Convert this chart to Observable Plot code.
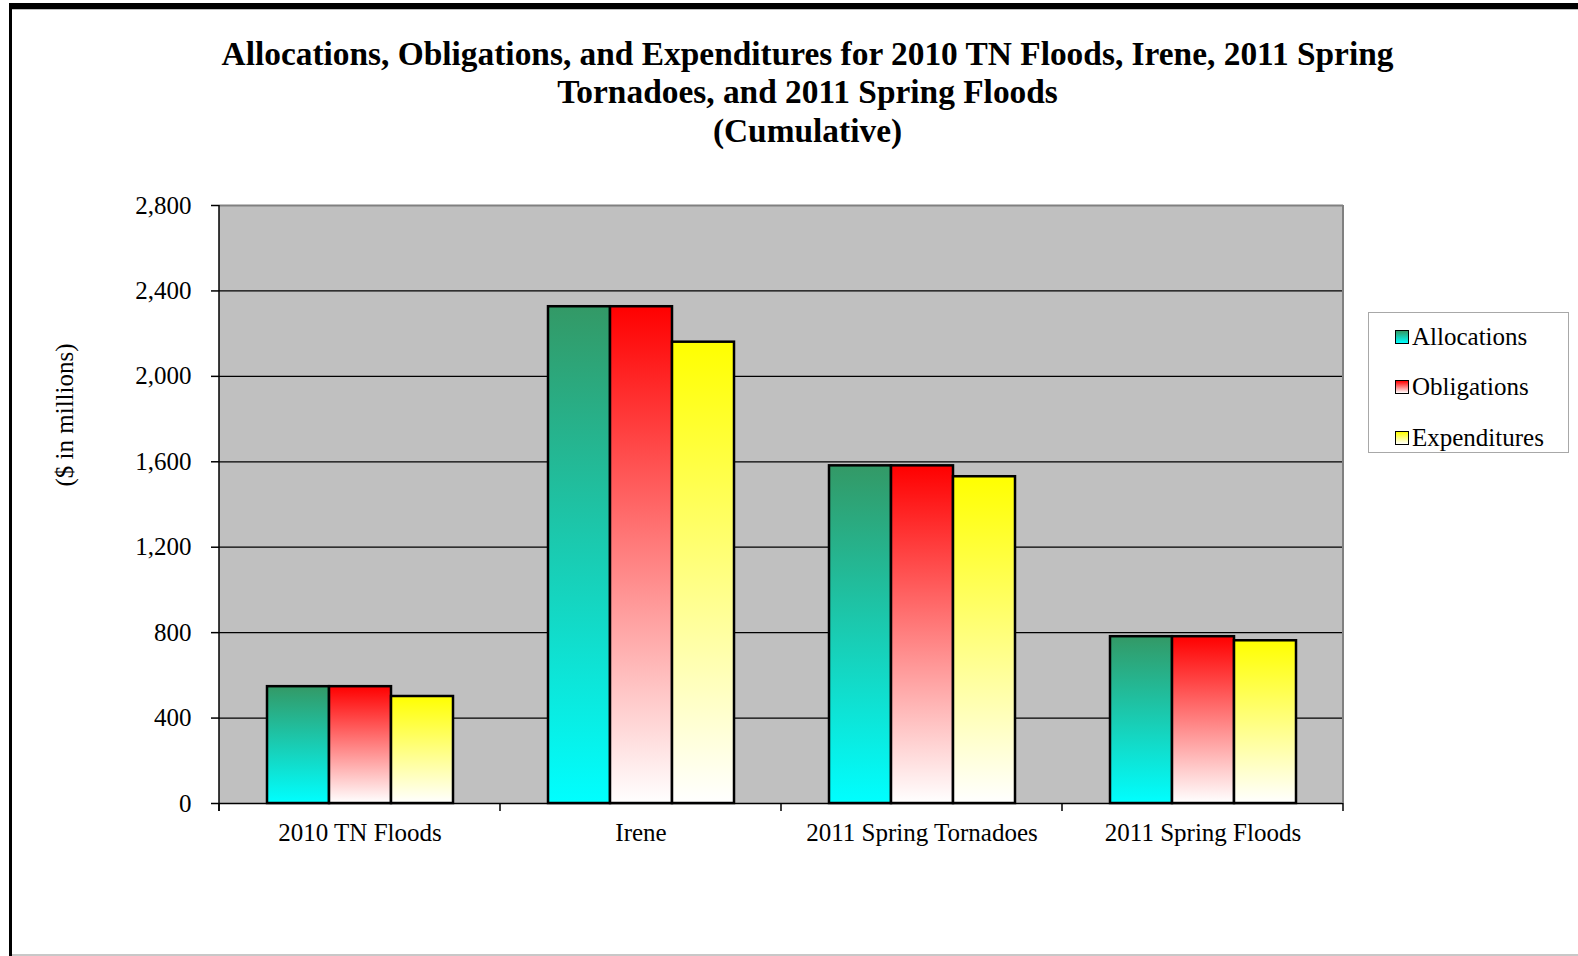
<!DOCTYPE html>
<html><head><meta charset="utf-8">
<script src="https://cdn.jsdelivr.net/npm/d3@7"></script>
<script src="https://cdn.jsdelivr.net/npm/@observablehq/plot@0.6"></script>
<style>
html,body{margin:0;padding:0;background:#fff;}
body{width:1578px;height:956px;overflow:hidden;position:relative;font-family:"Liberation Serif","Times New Roman",serif;color:#000;}
#chart{position:absolute;left:0;top:0;}
.bar{position:absolute;}
.title{position:absolute;left:0;width:1615px;text-align:center;font-weight:bold;font-size:33.4px;line-height:38.3px;white-space:nowrap;top:35px;}
.ylab{position:absolute;left:65px;top:415px;font-size:25px;white-space:nowrap;transform:translate(-50%,-50%) rotate(-90deg);}
.legend{position:absolute;left:1368px;top:312px;width:199px;height:139px;border:1px solid #a8a8a8;background:#fff;}
.item{position:absolute;left:26px;height:30px;font-size:25px;line-height:30px;white-space:nowrap;}
.sw{display:inline-block;width:12px;height:12px;border:1.5px solid #000;margin-right:3px;vertical-align:middle;position:relative;top:-2px;}
</style>
</head><body>
<div id="chart"></div>
<div class="bar" style="left:9px;top:3px;width:1569px;height:6px;background:#000"></div>
<div class="bar" style="left:9px;top:3px;width:3px;height:953px;background:#000"></div>
<div class="bar" style="left:12px;top:9px;width:1566px;height:1px;background:#bdbdbd"></div>
<div class="bar" style="left:12px;top:954px;width:1566px;height:2px;background:#c8c8c8"></div>
<div class="title">Allocations, Obligations, and Expenditures for 2010 TN Floods, Irene, 2011 Spring<br>Tornadoes, and 2011 Spring Floods<br>(Cumulative)</div>
<div class="ylab">($ in millions)</div>
<div class="legend" id="legend"></div>
<script>
const categories = ["2010 TN Floods", "Irene", "2011 Spring Tornadoes", "2011 Spring Floods"];
const series = ["Allocations", "Obligations", "Expenditures"];
const allocations = [547, 2326, 1581, 781];
const obligations = [547, 2326, 1581, 781];
const expenditures = [501, 2160, 1530, 762];
const yTicks = [0, 400, 800, 1200, 1600, 2000, 2400, 2800];
const gridTicks = [400, 800, 1200, 1600, 2000, 2400];
const gradTop = ["#339966", "#ff0000", "#ffff00"];
const gradBottom = ["#00ffff", "#ffffff", "#ffffff"];

const valuesBySeries = [allocations, obligations, expenditures];
const data = categories.flatMap((c, i) => series.map((s, j) => ({category: c, series: s, value: valuesBySeries[j][i]})));

const plot = Plot.plot({
  width: 1578, height: 956,
  marginLeft: 219, marginRight: 235, marginTop: 205, marginBottom: 153,
  style: {fontFamily: "Liberation Serif, Times New Roman, serif", fontSize: "25px", color: "black", background: "transparent", overflow: "visible"},
  fx: {domain: categories, padding: 0, label: null},
  x: {domain: series, paddingInner: 0, paddingOuter: 0.75, axis: null},
  y: {domain: [0, 2800], label: null},
  color: {domain: series, range: series.map((s, j) => `url(#grad${j})`)},
  marks: [
    Plot.gridY(gridTicks, {stroke: "black", strokeOpacity: 1, strokeWidth: 1.3}),
    Plot.barY(data, {fx: "category", x: "series", y: "value", fill: "series", stroke: "black", strokeWidth: 2.5}),
    Plot.ruleY([2800], {stroke: "#808080", strokeWidth: 2}),
    Plot.ruleY([0], {stroke: "black", strokeWidth: 1.5}),
    Plot.axisY({ticks: yTicks, tickFormat: d3.format(","), tickSize: 8, tickPadding: 20, fontSize: 25, label: null, strokeWidth: 1.5}),
    Plot.axisFx({anchor: "bottom", tickSize: 0, tickPadding: 20, fontSize: 25, label: null})
  ]
});
document.getElementById("chart").appendChild(plot);

const svg = d3.select(plot);
const defs = svg.insert("defs", ":first-child");
series.forEach((s, j) => {
  const g = defs.append("linearGradient").attr("id", `grad${j}`).attr("x1", 0).attr("y1", 0).attr("x2", 0).attr("y2", 1);
  g.append("stop").attr("offset", 0).attr("stop-color", gradTop[j]);
  g.append("stop").attr("offset", 1).attr("stop-color", gradBottom[j]);
});

const fx = plot.scale("fx"), y = plot.scale("y");
const edges = categories.map(c => fx.apply(c));
edges.push(fx.apply(categories[categories.length - 1]) + fx.bandwidth);
const y0 = y.apply(0), yTop = y.apply(2800);
// plot-area background, drawn beneath all marks
svg.insert("rect", "g").attr("x", edges[0]).attr("y", yTop).attr("width", edges[edges.length - 1] - edges[0]).attr("height", y0 - yTop).attr("fill", "#c0c0c0");
const deco = svg.append("g");
deco.append("line").attr("x1", edges[edges.length - 1]).attr("x2", edges[edges.length - 1]).attr("y1", yTop).attr("y2", y0).attr("stroke", "#808080").attr("stroke-width", 2);
deco.append("line").attr("x1", edges[0]).attr("x2", edges[0]).attr("y1", yTop).attr("y2", y0 + 8).attr("stroke", "black").attr("stroke-width", 1.5);
edges.forEach(e => deco.append("line").attr("x1", e).attr("x2", e).attr("y1", y0).attr("y2", y0 + 8).attr("stroke", "black").attr("stroke-width", 1.5));

const legend = document.getElementById("legend");
const rowCenters = [24, 74, 125];
series.forEach((s, j) => {
  const item = document.createElement("div");
  item.className = "item";
  item.style.top = (rowCenters[j] - 15) + "px";
  const sw = document.createElement("span");
  sw.className = "sw";
  sw.style.background = `linear-gradient(to bottom, ${gradTop[j]}, ${gradBottom[j]})`;
  item.appendChild(sw);
  item.appendChild(document.createTextNode(s));
  legend.appendChild(item);
});
</script>
</body></html>
